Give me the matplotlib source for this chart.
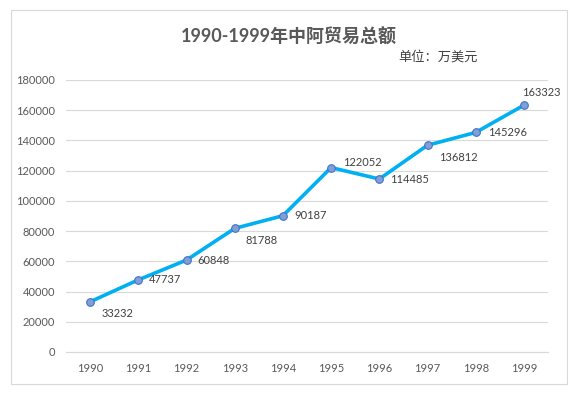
import matplotlib.pyplot as plt
from matplotlib.patches import Rectangle

plt.rcParams['font.family'] = ['Lato', 'Noto Sans CJK SC', 'DejaVu Sans']

years = ['1990', '1991', '1992', '1993', '1994', '1995', '1996', '1997', '1998', '1999']
trade = [33232, 47737, 60848, 81788, 90187, 122052, 114485, 136812, 145296, 163323]

# label offsets in pixels (like excel's placement)
label_off = [(11, -12), (11, 0), (11, 0), (11, -12), (11, 0),
             (12, 5), (11, 0), (12, -12), (12, 0), (-2, 13)]

fig = plt.figure(figsize=(5.79, 3.96), dpi=100)
fig.patches.append(Rectangle((11 / 579, 1 - 384 / 396), 556 / 579, 374 / 396,
                             transform=fig.transFigure, fill=False,
                             edgecolor='#d9d9d9', linewidth=0.8))

ax = fig.add_axes([66 / 579, 1 - 352 / 396, 482 / 579, 272 / 396])
x = range(len(years))
ax.plot(x, trade, color='#00b0f0', linewidth=2.6, zorder=3)
ax.plot(x, trade, linestyle='none', marker='o', markersize=5.5,
        markerfacecolor='#7f9fd8', markeredgecolor='#4472c4',
        markeredgewidth=0.8, zorder=4)

for i, v in enumerate(trade):
    ax.annotate(str(v), (i, v), xytext=label_off[i], textcoords='offset pixels',
                ha='left', va='center', fontsize=8, color='#404040')

ax.set_xlim(-0.5, len(years) - 0.5)
ax.set_ylim(0, 180000)
ax.set_yticks(range(0, 180001, 20000))
ax.set_xticks(list(x))
ax.set_xticklabels(years)
ax.grid(axis='y', color='#d9d9d9', linewidth=0.8)
ax.set_axisbelow(True)
for s in ['top', 'right', 'left']:
    ax.spines[s].set_visible(False)
ax.spines['bottom'].set_color('#d9d9d9')
ax.tick_params(length=0, labelsize=8, labelcolor='#595959', pad=8)
ax.tick_params(axis='y', pad=8)

fig.text(289 / 579, 1 - 37 / 396, '1990-1999年中阿贸易总额', ha='center', va='center',
         fontsize=13, fontweight='bold', color='#595959')
fig.text(398 / 579, 1 - 56 / 396, '单位：万美元', ha='left', va='center',
         fontsize=9.5, color='#404040')

fig.savefig('out.png', dpi=100)
